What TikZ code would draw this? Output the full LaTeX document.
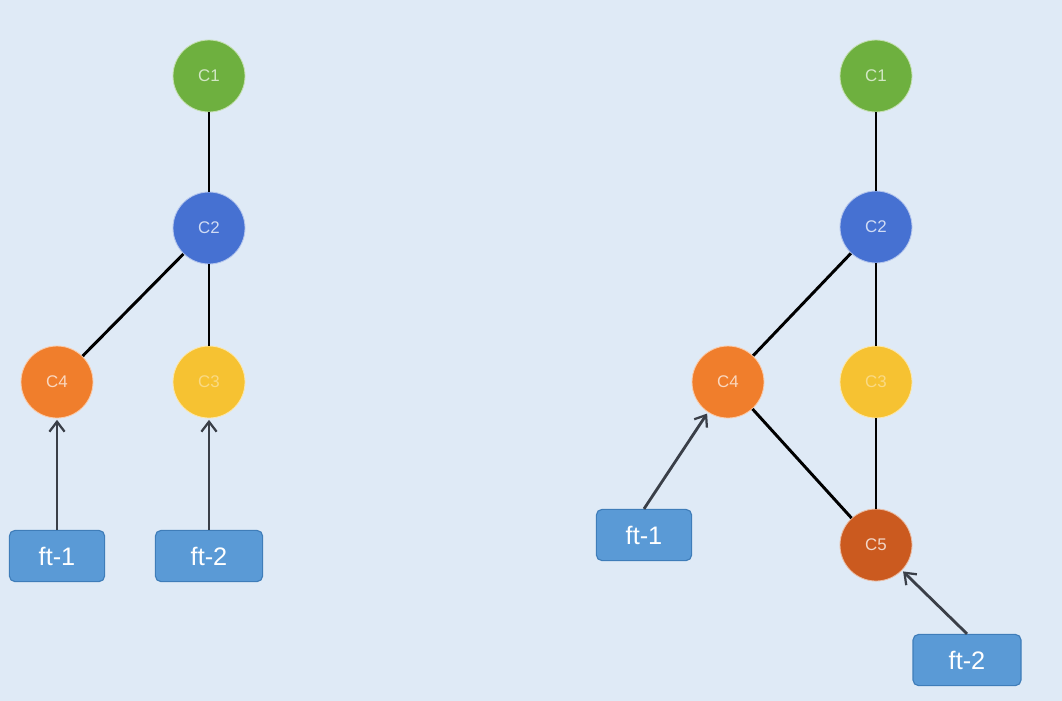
\documentclass[tikz,border=0pt]{standalone}
\usepackage{fontspec}
\setmainfont{Liberation Sans}
\usetikzlibrary{arrows.meta,positioning}
\definecolor{cbg}{HTML}{DFEAF6}
\definecolor{cgreen}{HTML}{6EB03F}
\definecolor{cblue}{HTML}{4671D2}
\definecolor{corange}{HTML}{F07E2C}
\definecolor{cyellow}{HTML}{F6C232}
\definecolor{crust}{HTML}{CB5A1F}
\definecolor{cbox}{HTML}{5A9AD6}
\definecolor{cboxline}{HTML}{3F7DB9}
\definecolor{carrow}{HTML}{3A3F48}

\begin{document}
\begin{tikzpicture}[x=0.025cm,y=-0.025cm,
  commit/.style={circle,minimum size=1.8cm,inner sep=0pt,draw=#1!40!white,
                 line width=0.6pt,font=\fontsize{12}{14}\selectfont},
  tag/.style={rounded corners=4pt,draw=cboxline,fill=cbox,line width=0.8pt,
              minimum height=1.28cm,font=\fontsize{18}{21}\selectfont,text=white},
  link/.style={black,line width=2.1pt},
  ref/.style={-{Straight Barb[length=2.5mm,width=3.8mm,line width=1.6pt]},
              color=carrow,line width=2pt,shorten >=1pt}
]
\useasboundingbox (0,0) rectangle (1062,700);
\fill[cbg] (-10,-10) rectangle (1072,710);
% left tree
\node[commit=cgreen,fill=cgreen,text=cgreen!30!white] (l1) at (209,76) {C1};
\node[commit=cblue,fill=cblue,text=cblue!25!white] (l2) at (209,228) {C2};
\node[commit=corange,fill=corange,text=corange!30!white] (l4) at (57,382) {C4};
\node[commit=cyellow,fill=cyellow,text=cyellow!60!white] (l3) at (209,382) {C3};
\node[tag,minimum width=2.38cm] (lf1) at (57,556) {ft-1};
\node[tag,minimum width=2.68cm] (lf2) at (209,556) {ft-2};
\draw[link] (l1) -- (l2);
\draw[link] (l2) -- (l4);
\draw[link] (l2) -- (l3);
\draw[ref] (lf1) -- (l4);
\draw[ref] (lf2) -- (l3);
% right tree
\node[commit=cgreen,fill=cgreen,text=cgreen!30!white] (r1) at (876,76) {C1};
\node[commit=cblue,fill=cblue,text=cblue!25!white] (r2) at (876,227) {C2};
\node[commit=corange,fill=corange,text=corange!30!white] (r4) at (728,382) {C4};
\node[commit=cyellow,fill=cyellow,text=cyellow!60!white] (r3) at (876,382) {C3};
\node[commit=crust,fill=crust,text=crust!25!white] (r5) at (876,545) {C5};
\node[tag,minimum width=2.38cm] (rf1) at (644,535) {ft-1};
\node[tag,minimum width=2.7cm] (rf2) at (967,660) {ft-2};
\draw[link] (r1) -- (r2);
\draw[link] (r2) -- (r4);
\draw[link] (r2) -- (r3);
\draw[link] (r4) -- (r5);
\draw[link] (r3) -- (r5);
\draw[ref] (rf1.north) -- (r4);
\draw[ref] (rf2.north) -- (r5);
\end{tikzpicture}
\end{document}
